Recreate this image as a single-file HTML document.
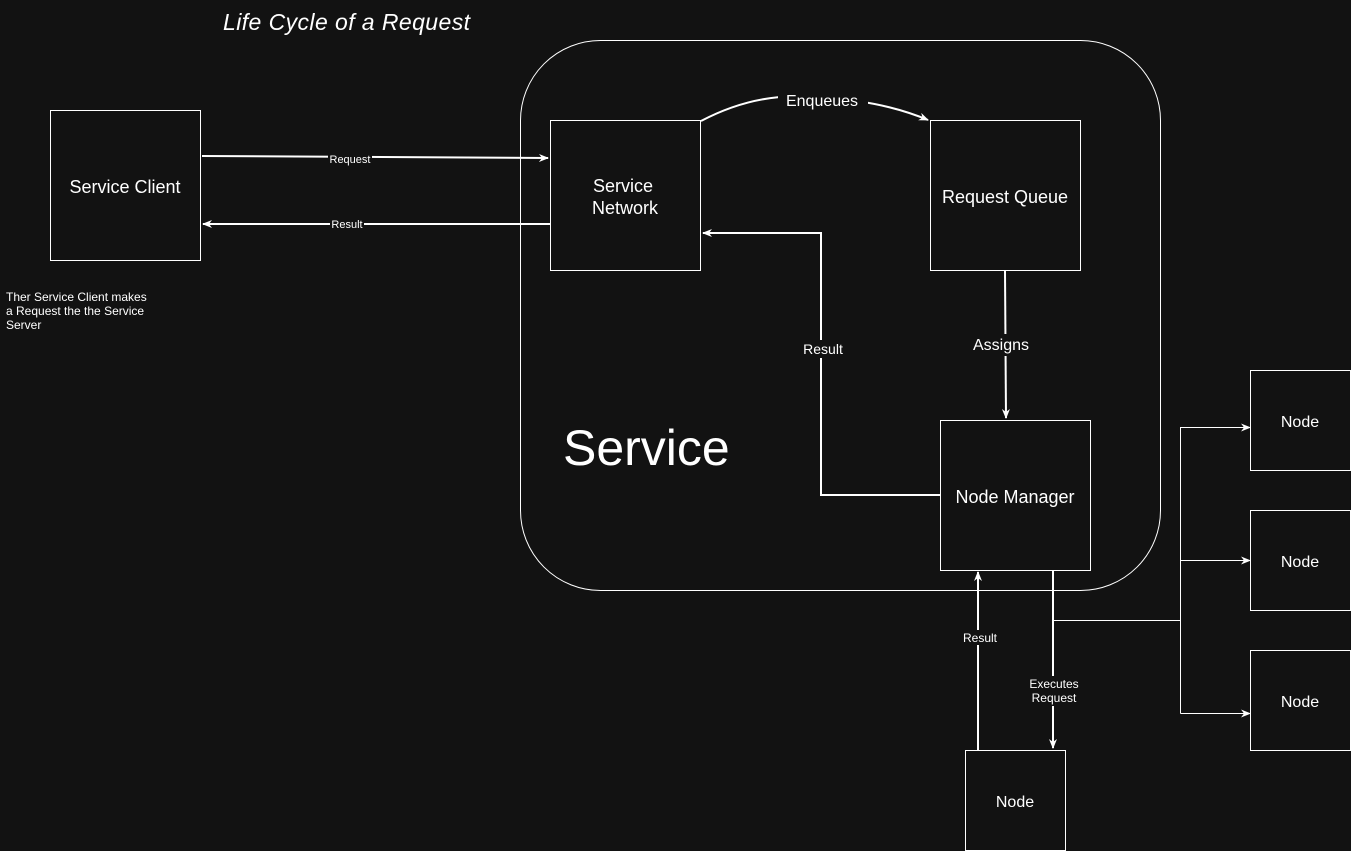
<!DOCTYPE html>
<html><head><style>
html,body{margin:0;padding:0;background:#121212;}
svg{display:block;}
text{font-family:"Liberation Sans",sans-serif;fill:#fff;}
</style></head><body>
<svg width="1351" height="851" viewBox="0 0 1351 851">
<defs>
<marker id="a" markerWidth="10" markerHeight="10" refX="9" refY="5" orient="auto" markerUnits="userSpaceOnUse">
<path d="M0,1 L10,5 L0,9 L3,5 Z" fill="#fff"/></marker>
</defs>
<rect width="1351" height="851" fill="#121212"/>
<text x="223" y="30" font-size="23" font-style="italic" textLength="247">Life Cycle of a Request</text>
<rect x="520.5" y="40.5" width="640" height="550" rx="80" fill="none" stroke="#fff" stroke-width="1"/>
<text x="563" y="465" font-size="50">Service</text>
<g fill="none" stroke="#fff" stroke-width="1">
<rect x="50.5" y="110.5" width="150" height="150"/>
<rect x="550.5" y="120.5" width="150" height="150"/>
<rect x="930.5" y="120.5" width="150" height="150"/>
<rect x="940.5" y="420.5" width="150" height="150"/>
<rect x="1250.5" y="370.5" width="100" height="100"/>
<rect x="1250.5" y="510.5" width="100" height="100"/>
<rect x="1250.5" y="650.5" width="100" height="100"/>
<rect x="965.5" y="750.5" width="100" height="100"/>
</g>
<g font-size="18" text-anchor="middle">
<text x="125" y="193">Service Client</text>
<text x="623" y="192">Service</text>
<text x="625" y="214">Network</text>
<text x="1005" y="203">Request Queue</text>
<text x="1015" y="503">Node Manager</text>
</g>
<g font-size="16" text-anchor="middle">
<text x="1300" y="427">Node</text>
<text x="1300" y="567">Node</text>
<text x="1300" y="707">Node</text>
<text x="1015" y="807">Node</text>
</g>
<g fill="none" stroke="#fff" stroke-width="2">
<path d="M202,156 L548,158" marker-end="url(#a)"/>
<path d="M550,224 L203,224" marker-end="url(#a)"/>
<path d="M701,121 Q760,90 820,98 Q880,100 928,120" marker-end="url(#a)"/>
<path d="M1005,271 L1006,418" marker-end="url(#a)"/>
<path d="M940,495 L821,495 L821,233 L703,233" marker-end="url(#a)"/>
<path d="M1053,571 L1053,748" marker-end="url(#a)"/>
<path d="M978,750 L978,572" marker-end="url(#a)"/>
</g>
<g fill="none" stroke="#fff" stroke-width="1">
<path d="M1054,620.5 L1180.5,620.5"/>
<path d="M1180.5,427 L1180.5,713.5"/>
<path d="M1180.5,427.5 L1250,427.5" marker-end="url(#a)"/>
<path d="M1180.5,560.5 L1250,560.5" marker-end="url(#a)"/>
<path d="M1180.5,713.5 L1250,713.5" marker-end="url(#a)"/>
</g>
<g text-anchor="middle">
<rect x="328" y="152" width="44" height="13" fill="#121212"/>
<text x="350" y="163" font-size="11">Request</text>
<rect x="330" y="217" width="34" height="13" fill="#121212"/>
<text x="347" y="228" font-size="11">Result</text>
<rect x="778" y="88" width="90" height="22" fill="#121212"/>
<text x="822" y="106" font-size="16">Enqueues</text>
<rect x="968" y="334" width="66" height="22" fill="#121212"/>
<text x="1001" y="350" font-size="16">Assigns</text>
<rect x="800" y="340" width="46" height="18" fill="#121212"/>
<text x="823" y="354" font-size="14">Result</text>
<rect x="960" y="630" width="38" height="15" fill="#121212"/>
<text x="980" y="642" font-size="12">Result</text>
<rect x="1028" y="676" width="52" height="30" fill="#121212"/>
<text x="1054" y="688" font-size="12">Executes</text>
<text x="1054" y="702" font-size="12">Request</text>
</g>
<g font-size="12">
<text x="6" y="301">Ther Service Client makes</text>
<text x="6" y="315">a Request the the Service</text>
<text x="6" y="329">Server</text>
</g>
</svg>
</body></html>
